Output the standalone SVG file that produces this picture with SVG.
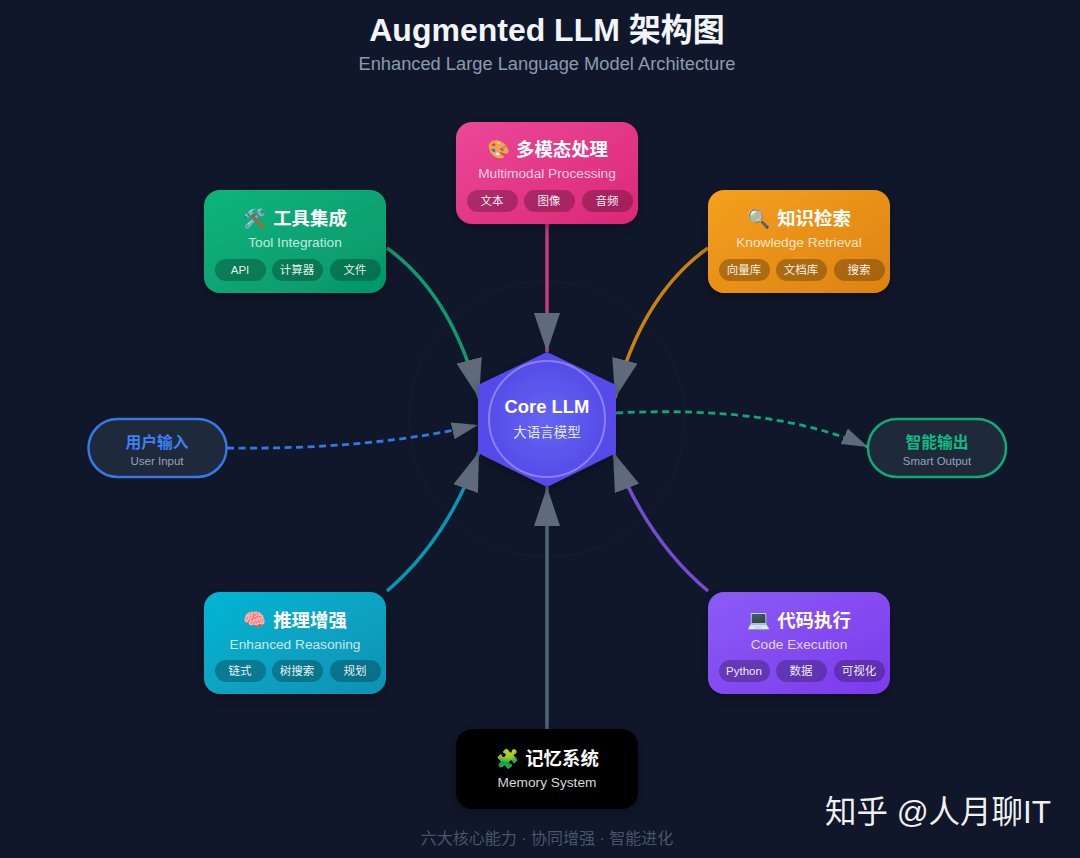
<svg xmlns="http://www.w3.org/2000/svg" width="1080" height="858" viewBox="0 0 1080 858">
<defs>
<style>
text{font-family:"Liberation Sans","Noto Sans CJK SC",sans-serif;text-anchor:middle}
.nt{font-size:18.400px;font-weight:700;fill:#fff}
.ns{font-size:13.700px;fill:#fff;fill-opacity:.78}
.pt{font-size:11.500px;fill:#fff;fill-opacity:.92}
.pill{fill:#000;fill-opacity:.25}
.box{filter:url(#sh)}
.con{fill:none;stroke-width:3.500;stroke-opacity:.8}
.dash{fill:none;stroke-width:2.800;stroke-dasharray:7 4.500;stroke-opacity:.9}
.ring{fill:none;stroke:#94a3b8;stroke-opacity:.05}
.emo{font-family:"Noto Color Emoji","DejaVu Sans",sans-serif;font-size:18.500px}
.it{font-size:15.800px;font-weight:700}
.is{font-size:11.500px;fill:#94a3b8}
</style>
<marker id="big" markerUnits="userSpaceOnUse" markerWidth="40" markerHeight="28" refX="39" refY="14" orient="auto"><path d="M0 1L39 14L0 27Z" fill="#5f6b7b"/></marker>
<marker id="small" markerUnits="userSpaceOnUse" markerWidth="27" markerHeight="18" refX="26" refY="9" orient="auto"><path d="M0 0.500L26 9L0 17.500Z" fill="#5f6b7b"/></marker>
<linearGradient id="gp" x1="0" y1="0" x2="1" y2="1"><stop offset="0" stop-color="#ec4899"/><stop offset="1" stop-color="#db2777"/></linearGradient>
<linearGradient id="gg" x1="0" y1="0" x2="1" y2="1"><stop offset="0" stop-color="#0db47c"/><stop offset="1" stop-color="#059669"/></linearGradient>
<linearGradient id="go" x1="0" y1="0" x2="1" y2="1"><stop offset="0" stop-color="#f5a020"/><stop offset="1" stop-color="#dd8210"/></linearGradient>
<linearGradient id="gt" x1="0" y1="0" x2="1" y2="1"><stop offset="0" stop-color="#06b6d4"/><stop offset="1" stop-color="#0891b2"/></linearGradient>
<linearGradient id="gv" x1="0" y1="0" x2="1" y2="1"><stop offset="0" stop-color="#8b5cf6"/><stop offset="1" stop-color="#7c3aed"/></linearGradient>
<radialGradient id="gc"><stop offset="0" stop-color="#6366f1"/><stop offset="1" stop-color="#5548e8"/></radialGradient>
<filter id="sh" x="-20%" y="-20%" width="140%" height="150%"><feDropShadow dx="0" dy="4" stdDeviation="6" flood-color="#000" flood-opacity=".3"/></filter>
</defs>
<rect width="1080" height="858" fill="#10172a"/>
<text x="547" y="41" font-size="32" font-weight="700" fill="#f1f5f9">Augmented LLM 架构图</text>
<text x="547" y="70" font-size="18.300" fill="#8b9bb0">Enhanced Large Language Model Architecture</text>
<circle class="ring" cx="547" cy="419" r="138"/>
<g id="connectors">
<path class="con" stroke="#ec4899" marker-end="url(#big)" d="M547 224V352"/>
<path class="con" stroke="#10b981" marker-end="url(#big)" d="M387 248Q452 295 479 398"/>
<path class="con" stroke="#f59e0b" marker-end="url(#big)" d="M708 248Q642 295 615 398"/>
<path class="con" stroke="#06b6d4" marker-end="url(#big)" d="M387 591Q447 540 479 452"/>
<path class="con" stroke="#8b5cf6" marker-end="url(#big)" d="M708 591Q647 540 613 452"/>
<path class="con" stroke="#64748b" marker-end="url(#big)" d="M547 729V487"/>
<path class="dash" stroke="#3b82f6" marker-end="url(#small)" d="M227 448Q370 450 478 425"/>
<path class="dash" stroke="#10b981" marker-end="url(#small)" d="M616 413Q775 405 868 447"/>
</g>
<g id="core">
<path d="M547 352L616 385V453L547 487L478 453V385Z" fill="url(#gc)" class="box"/>
<circle cx="547" cy="419" r="58" fill="none" stroke="#fff" stroke-opacity=".3" stroke-width="2"/>
<text x="547" y="413" font-size="18.400" font-weight="700" fill="#fff">Core LLM</text>
<text x="547" y="437" font-size="13.500" fill="#fff" fill-opacity=".85">大语言模型</text>
</g>
<g id="multimodal">
<rect class="box" x="456" y="122" width="182" height="102" rx="16" fill="url(#gp)"/>
<text class="emo" x="499" y="156">🎨</text><text class="nt" x="562" y="156">多模态处理</text>
<text class="ns" x="547" y="178">Multimodal Processing</text>
<rect class="pill" x="467" y="190" width="51" height="22" rx="11"/><text class="pt" x="492" y="205">文本</text>
<rect class="pill" x="524" y="190" width="51" height="22" rx="11"/><text class="pt" x="549" y="205">图像</text>
<rect class="pill" x="582" y="190" width="51" height="22" rx="11"/><text class="pt" x="607" y="205">音频</text>
</g>
<g id="tools">
<rect class="box" x="204" y="190" width="182" height="103" rx="16" fill="url(#gg)"/>
<text class="emo" x="255" y="225">🛠️</text><text class="nt" x="310" y="225">工具集成</text>
<text class="ns" x="295" y="247">Tool Integration</text>
<rect class="pill" x="215" y="259" width="51" height="22" rx="11"/><text class="pt" x="240" y="274">API</text>
<rect class="pill" x="272" y="259" width="51" height="22" rx="11"/><text class="pt" x="297" y="274">计算器</text>
<rect class="pill" x="330" y="259" width="51" height="22" rx="11"/><text class="pt" x="355" y="274">文件</text>
</g>
<g id="knowledge">
<rect class="box" x="708" y="190" width="182" height="103" rx="16" fill="url(#go)"/>
<text class="emo" x="759" y="225">🔍</text><text class="nt" x="814" y="225">知识检索</text>
<text class="ns" x="799" y="247">Knowledge Retrieval</text>
<rect class="pill" x="719" y="259" width="51" height="22" rx="11"/><text class="pt" x="744" y="274">向量库</text>
<rect class="pill" x="776" y="259" width="51" height="22" rx="11"/><text class="pt" x="801" y="274">文档库</text>
<rect class="pill" x="834" y="259" width="51" height="22" rx="11"/><text class="pt" x="859" y="274">搜索</text>
</g>
<g id="reasoning">
<rect class="box" x="204" y="592" width="182" height="102" rx="16" fill="url(#gt)"/>
<text class="emo" x="255" y="626">🧠</text><text class="nt" x="310" y="627">推理增强</text>
<text class="ns" x="295" y="649">Enhanced Reasoning</text>
<rect class="pill" x="215" y="660" width="51" height="22" rx="11"/><text class="pt" x="240" y="675">链式</text>
<rect class="pill" x="272" y="660" width="51" height="22" rx="11"/><text class="pt" x="297" y="675">树搜索</text>
<rect class="pill" x="330" y="660" width="51" height="22" rx="11"/><text class="pt" x="355" y="675">规划</text>
</g>
<g id="code">
<rect class="box" x="708" y="592" width="182" height="102" rx="16" fill="url(#gv)"/>
<text class="emo" x="759" y="626">💻</text><text class="nt" x="814" y="627">代码执行</text>
<text class="ns" x="799" y="649">Code Execution</text>
<rect class="pill" x="719" y="660" width="51" height="22" rx="11"/><text class="pt" x="744" y="675">Python</text>
<rect class="pill" x="776" y="660" width="51" height="22" rx="11"/><text class="pt" x="801" y="675">数据</text>
<rect class="pill" x="834" y="660" width="51" height="22" rx="11"/><text class="pt" x="859" y="675">可视化</text>
</g>
<g id="memory">
<rect class="box" x="456" y="729" width="182" height="80" rx="16" fill="#000"/>
<text class="emo" x="508" y="765">🧩</text><text class="nt" x="562" y="765">记忆系统</text>
<text class="ns" x="547" y="787" style="fill-opacity:.85">Memory System</text>
</g>
<g id="input">
<rect x="88.500" y="419" width="138" height="58" rx="29" fill="#1e293b" stroke="#3b82f6" stroke-width="2.500" stroke-opacity=".9"/>
<text class="it" x="157" y="448" fill="#3b82f6">用户输入</text>
<text class="is" x="157" y="465">User Input</text>
</g>
<g id="output">
<rect x="868" y="419" width="138" height="58" rx="29" fill="#1e293b" stroke="#10b981" stroke-width="2.500" stroke-opacity=".9"/>
<text class="it" x="937" y="448" fill="#10b981">智能输出</text>
<text class="is" x="937" y="465">Smart Output</text>
</g>
<text x="547" y="844" font-size="16" fill="#475569">六大核心能力 · 协同增强 · 智能进化</text>
<text x="938" y="823" font-size="31.500" fill="#fff" fill-opacity=".95">知乎 @人月聊IT</text>
</svg>
